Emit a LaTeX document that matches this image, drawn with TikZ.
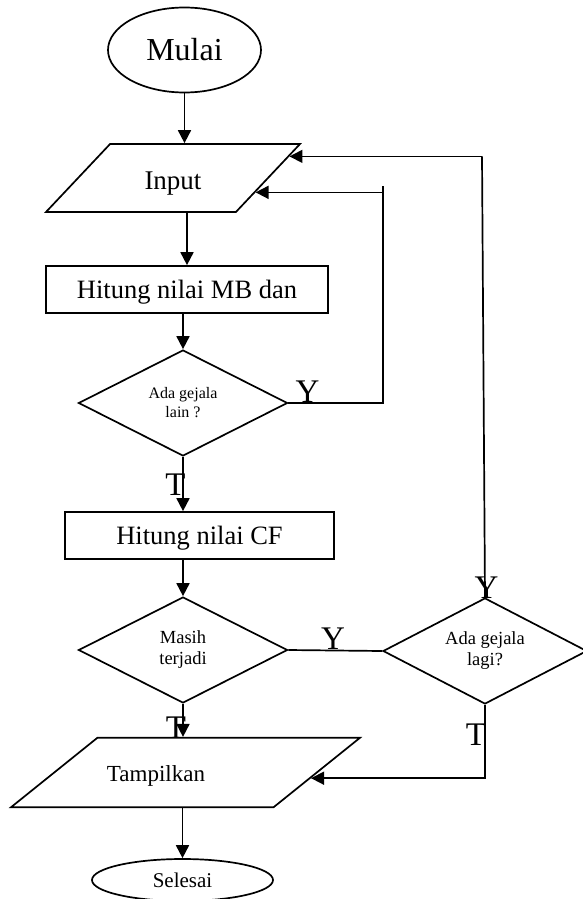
\documentclass[tikz,border=0pt]{standalone}
\usepackage{fontspec}
\setmainfont{Liberation Serif}
\usetikzlibrary{calc,shapes.geometric,arrows.meta}
\tikzset{
	% ------- every something
	every node/.style={
		inner sep=0pt,
	},
	% ------- custom
	terminal/.style={
		ellipse, draw, line width=1.7pt,
	},
	inout/.style={
		trapezium, draw, line width=1.7pt,
		trapezium stretches body=true,
	},
	process/.style={
		rectangle, draw, line width=1.7pt,
		text depth=0pt,
	},
	decision/.style={
		diamond, draw, line width=1.7pt, aspect=2,
		align=center,
	},
	flow/.style={
		line width=1.8pt,
		-{Triangle[length=13pt,width=13pt]},
	},
	loopline/.style={
		line width=1.7pt,
	},
	answer/.style={
		font=\fontsize{33}{33}\selectfont,
		anchor=base,
	},
}

\begin{document}
\begin{tikzpicture}[x=1pt,y=-1pt]

	\useasboundingbox (0,0) rectangle (582,899);

% nodes %{{{2

	\node[terminal, minimum width=153pt, minimum height=85pt,
		font=\fontsize{32}{32}\selectfont] (mulai) at (184.5,50) {Mulai};

	\node[inout, minimum width=254pt, text height=45pt, text depth=23pt,
		trapezium left angle=46.7, trapezium right angle=133.3,
		font=\fontsize{27}{27}\selectfont] (input) at (173,178) {Input};

	\node[process, minimum width=282pt, minimum height=47pt,
		font=\fontsize{26.5}{26.5}\selectfont] (mbdan) at (187,289.5) {Hitung nilai MB dan};

	\node[decision, minimum width=209pt, minimum height=106pt,
		font=\fontsize{16}{19}\selectfont] (lain) at (183,403) {Ada gejala\\lain ?};

	\node[process, minimum width=269pt, minimum height=47pt,
		font=\fontsize{26.5}{26.5}\selectfont] (cf) at (199.5,535.5) {Hitung nilai CF};

	\node[decision, minimum width=209pt, minimum height=106pt,
		font=\fontsize{18.5}{21}\selectfont] (masih) at (183,650) {Masih\\terjadi};

	\node[decision, minimum width=204pt, minimum height=106pt,
		font=\fontsize{18.5}{21}\selectfont] (lagi) at (485,651) {Ada gejala\\lagi?};

	\node[inout, minimum width=349pt, text height=44pt, text depth=25.5pt,
		trapezium left angle=38.8, trapezium right angle=141.2,
		font=\fontsize{23}{23}\selectfont] (tampil) at (185.5,772.5) {Tampilkan\hspace*{59pt}};

	\node[terminal, minimum width=181pt, minimum height=42pt, text depth=0pt,
		font=\fontsize{21}{21}\selectfont] (selesai) at (182.5,880) {Selesai};

% coordinates %{{{2

	\coordinate (inA) at ($ (input.top right corner)!0.19!(input.bottom right corner) $);
	\coordinate (inB) at ($ (input.top right corner)!0.706!(input.bottom right corner) $);
	\coordinate (outA) at ($ (tampil.top right corner)!0.58!(tampil.bottom right corner) $);

	\coordinate (lainTop) at (383,186);
	\coordinate (lagiTop) at ($ (inA -| lagi.north) + (-3,0) $);

% connectors %{{{2

	\draw[flow] (mulai) -- (mulai |- input.north);
	\draw[flow] (input.south -| mbdan.north) -- (mbdan.north);
	\draw[flow] (lain.north |- mbdan.south) -- (lain.north);
	\draw[flow] (lain.south) -- (lain.south |- cf.north);
	\draw[flow] (masih.north |- cf.south) -- (masih.north);
	\draw[flow] (masih.south) -- (masih.south |- tampil.north);
	\draw[flow] (tampil.south -| selesai.north) -- (selesai.north);

% loops %{{{2

	\draw[loopline] (lain.east) -| (lainTop);
	\draw[flow, line width=1.7pt] (lainTop |- inB) -- (inB);

	\draw[loopline] (masih.east) -- (lagi.west);

	\draw[loopline] (lagi.north) -- (lagiTop);
	\draw[flow, line width=1.7pt] (lagiTop) -- (inA);

	\draw[flow, line width=1.7pt] (lagi.south) |- (outA);

% answer labels %{{{2

	\node[answer] (y1) at (307.5,402) {Y};
	\node[answer] (t1) at (175.5,495) {T};
	\node[answer] (y2) at (333,649) {Y};
	\node[answer] (y3) at (486.5,598) {Y};
	\node[answer] (t2) at (176,738) {T};
	\node[answer] (t3) at (476,745) {T};

\end{tikzpicture}
\end{document}
